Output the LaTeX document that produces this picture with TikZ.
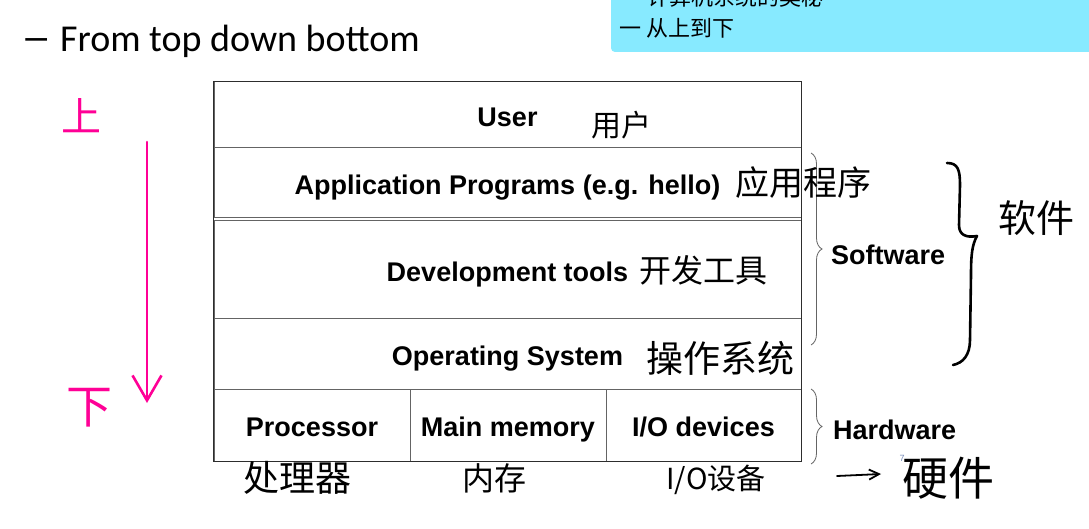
\documentclass[tikz,border=0pt]{standalone}
\usepackage{fontspec}
\setmainfont{Liberation Sans}
\newfontfamily\calfont{Carlito}
\newfontfamily\cjkfont{Noto Sans CJK SC}
\usetikzlibrary{arrows.meta,decorations.pathreplacing}
\definecolor{hand}{RGB}{255,0,150}
\definecolor{cyanbox}{RGB}{135,234,255}
\definecolor{rulecol}{RGB}{100,100,100}
\definecolor{pagenum}{RGB}{120,140,185}
\tikzset{
  layer/.style={draw=rulecol, line width=1pt, inner sep=0pt, text height=23pt, text depth=0pt,
    font=\fontsize{27}{30}\selectfont\bfseries, text=black},
  sidelabel/.style={anchor=west, inner sep=0pt, text height=21pt, text depth=1pt,
    font=\fontsize{27}{30}\selectfont\bfseries, text=black},
  thinbrace/.style={draw=rulecol, line width=0.8pt, decorate, decoration={brace, amplitude=11pt}},
  handtext/.style={inner sep=0pt, font=\cjkfont\fontsize{#1}{#1}\selectfont},
  slidecjk/.style={anchor=west, inner sep=0pt, font=\cjkfont\fontsize{22}{24}\selectfont}
}
\begin{document}
\begin{tikzpicture}[x=1pt,y=-1pt]
\useasboundingbox (0,0) rectangle (1089,529);
\clip (0,0) rectangle (1089,529);
\fill[white] (0,0) rectangle (1089,529);

% slide title
\node[anchor=base west, inner sep=0pt, font=\calfont\fontsize{38}{40}\selectfont] (title) at (21,52) {\makebox[39pt][l]{\scalebox{1.6}[1.1]{–}}From top down bottom};

% cyan note box
\fill[cyanbox, rounded corners=4pt] (611,-20) rectangle (1100,52);
\node[slidecjk] (note1) at (647,-3) {计算机系统的奥秘};
\node[slidecjk] (note2) at (619,28) {一 从上到下};

% layers
\node[layer, minimum width=587pt, minimum height=66pt] (user) at (507.5,115) {User};
\node[layer, minimum width=587pt, minimum height=70pt] (app) at (507.5,183) {Application Programs (e.g. hello)};
\node[layer, minimum width=587pt, minimum height=97pt] (dev) at (507.5,269.5) {Development tools};
\node[layer, minimum width=587pt, minimum height=71pt] (os) at (507.5,353.5) {Operating System};
\node[layer, minimum width=196pt, minimum height=72pt] (proc) at (312,425) {Processor};
\node[layer, minimum width=196pt, minimum height=72pt] (mem) at (508,425) {Main memory};
\node[layer, minimum width=195pt, minimum height=72pt] (io) at (703.5,425) {I/O devices};
\draw[draw={rgb,255:red,45;green,45;blue,45}, line width=1pt] (user.north west) rectangle (io.south east);

% braces and labels
\coordinate (swtop) at (811,153);
\coordinate (swbot) at (811,345);
\draw[thinbrace] (swtop) -- (swbot);
\node[sidelabel] (software) at (831,255) {Software};
\coordinate (hwtop) at (811,389);
\coordinate (hwbot) at (811,464);
\draw[thinbrace] (hwtop) -- (hwbot);
\node[sidelabel] (hardware) at (833,429) {Hardware};

% handwritten big brace
\coordinate (bbtop) at (947,163);
\coordinate (bbbot) at (953,365);
\draw[line width=2.6pt, line cap=round, line join=round] (bbtop) .. controls (958,163) and (960,170) .. (960,185) -- (959,225) .. controls (959,235) and (966,238) .. (977,236) .. controls (972,245) and (971,255) .. (971,275) -- (970,340) .. controls (970,355) and (963,363) .. (bbbot);

% handwritten annotations
\node[handtext=30] (hUser) at (621,125) {用户};
\node[handtext=34] (hApp) at (803,183) {应用程序};
\node[handtext=32] (hDev) at (703,270) {开发工具};
\node[handtext=37] (hOS) at (720,358) {操作系统};
\node[handtext=36] (hProc) at (297,478) {处理器};
\node[handtext=32] (hMem) at (494,478) {内存};
\node[handtext=29] (hIO) at (716,480) {I/O设备};
\node[handtext=38] (hSoft) at (1036,218) {软件};
\node[handtext=46] (hHard) at (948,478) {硬件};
\node[inner sep=0pt, text=pagenum, font=\fontsize{9}{9}\selectfont] (page) at (902,458) {7};
\coordinate (hwarrs) at (837,476);
\coordinate (hwarre) at (881,474);
\draw[line width=1.8pt, line cap=round, -{Straight Barb[length=10pt,width=10pt,line width=1.8pt]}] (hwarrs) -- (hwarre);

% magenta direction
\node[handtext=40, text=hand] (up) at (81,116) {上};
\node[handtext=46, text=hand] (down) at (89,408) {下};
\coordinate (arrtop) at (147,142);
\coordinate (arrbot) at (147,403);
\draw[hand, line width=2.6pt, line cap=round, -{Straight Barb[length=25pt,width=29pt,line width=2.6pt]}] (arrtop) -- (arrbot);
\end{tikzpicture}
\end{document}
